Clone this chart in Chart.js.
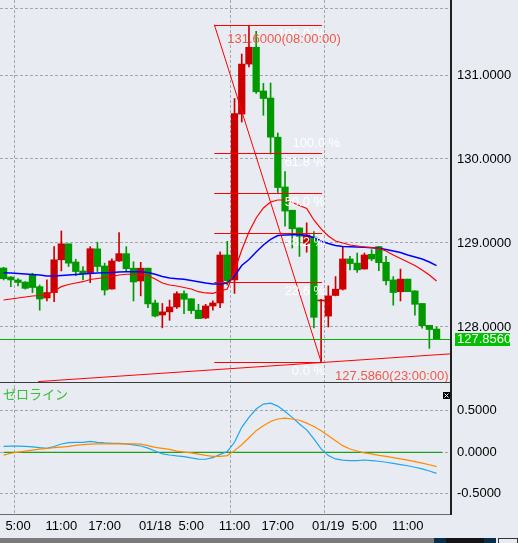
<!DOCTYPE html>
<html>
<head>
<meta charset="utf-8">
<script src="https://cdn.jsdelivr.net/npm/chart.js@4.4.1/dist/chart.umd.min.js"></script>
<style>
html, body { margin: 0; padding: 0; background: #e9ebf3; overflow: hidden; }
canvas { display: block; }
</style>
</head>
<body>
<canvas id="chart" width="518" height="543"></canvas>
<script>
// hourly candles, 01/17 03:00 .. 01/19 15:00
const open  = [128.702,128.595,128.560,128.535,128.615,128.480,128.345,128.410,128.800,128.990,
               128.774,128.667,128.647,128.930,128.726,128.452,128.786,128.873,128.700,128.548,
               128.700,128.286,128.143,128.180,128.238,128.397,128.336,128.200,128.107,128.250,
               128.286,128.857,128.560,130.535,131.130,131.330,130.810,130.726,130.260,129.667,
               129.390,129.180,128.997,129.070,128.310,128.130,128.375,128.450,128.810,128.760,
               128.690,128.865,128.957,128.770,128.560,128.420,128.570,128.430,128.280,128.020,127.975];
const high  = [128.710,128.600,128.575,128.540,128.640,128.500,128.560,128.956,129.143,128.990,
               128.806,128.720,128.956,129.010,128.760,128.810,129.123,128.956,128.776,128.770,
               128.700,128.320,128.280,128.320,128.420,128.430,128.336,128.270,128.270,128.310,
               128.896,129.020,130.720,131.250,131.590,131.520,130.900,130.905,130.310,129.850,
               129.390,129.180,129.240,129.135,128.330,128.490,128.600,128.956,128.840,128.880,
               128.880,128.920,128.960,128.840,128.600,128.690,128.570,128.430,128.280,128.020,128.000];
const low   = [128.560,128.480,128.490,128.450,128.410,128.200,128.310,128.300,128.667,128.720,
               128.610,128.560,128.527,128.660,128.380,128.450,128.780,128.658,128.310,128.370,
               128.230,128.120,127.990,128.080,128.220,128.160,128.160,128.100,128.100,128.200,
               128.230,128.500,128.400,130.440,131.095,130.780,130.520,130.060,129.600,129.200,
               128.940,128.840,128.890,127.990,127.586,128.000,128.370,128.440,128.680,128.650,
               128.690,128.790,128.670,128.500,128.260,128.310,128.420,128.140,127.985,127.745,127.850];
const close = [128.575,128.560,128.530,128.460,128.470,128.333,128.410,128.800,128.990,128.760,
               128.660,128.635,128.932,128.720,128.440,128.786,128.873,128.694,128.536,128.700,
               128.275,128.130,128.180,128.238,128.397,128.330,128.195,128.100,128.250,128.286,
               128.857,128.550,130.540,131.130,131.330,130.800,130.720,130.260,129.660,129.380,
               129.170,129.080,129.095,128.115,128.320,128.370,128.450,128.810,128.755,128.680,
               128.857,128.810,128.766,128.550,128.410,128.570,128.420,128.270,128.015,127.970,127.856];

// moving averages (red fast, blue slow)
const maFast = [128.321,128.333,128.345,128.357,128.369,128.375,128.387,128.429,128.480,128.506,
                128.524,128.539,128.565,128.577,128.589,128.601,128.619,128.628,128.628,128.628,
                128.613,128.571,128.524,128.500,128.488,128.470,128.452,128.420,128.405,128.401,
                128.429,128.452,128.667,128.917,129.131,129.298,129.417,129.488,129.512,129.512,
                129.482,129.446,129.411,129.274,129.167,129.083,129.024,129.000,128.976,128.964,
                128.952,128.946,128.935,128.905,128.857,128.815,128.774,128.732,128.679,128.619,128.548];
const maSlow = [128.647,128.643,128.637,128.631,128.625,128.619,128.607,128.607,128.613,128.619,
                128.625,128.631,128.637,128.643,128.647,128.649,128.655,128.658,128.658,128.658,
                128.649,128.628,128.601,128.583,128.575,128.568,128.554,128.539,128.524,128.512,
                128.512,128.524,128.607,128.732,128.804,128.893,128.976,129.042,129.089,129.095,
                129.099,129.101,129.089,129.066,129.024,128.994,128.970,128.958,128.956,128.952,
                128.949,128.944,128.938,128.923,128.905,128.887,128.857,128.833,128.810,128.774,128.730];

// sub window
const oscMain   = [0.072,0.075,0.074,0.070,0.064,0.055,0.048,0.070,0.100,0.115,
                   0.120,0.120,0.132,0.120,0.112,0.108,0.108,0.100,0.090,0.076,
                   0.050,0.015,-0.020,-0.033,-0.044,-0.052,-0.068,-0.082,-0.084,-0.065,
                   -0.025,0.010,0.120,0.300,0.420,0.520,0.580,0.590,0.555,0.490,
                   0.420,0.340,0.270,0.160,0.040,-0.040,-0.080,-0.095,-0.100,-0.100,
                   -0.093,-0.100,-0.108,-0.120,-0.133,-0.148,-0.162,-0.180,-0.200,-0.225,-0.253];
const oscSignal = [-0.035,-0.012,0.003,0.015,0.027,0.037,0.046,0.055,0.063,0.072,
                   0.083,0.093,0.097,0.100,0.100,0.100,0.100,0.100,0.100,0.097,
                   0.080,0.060,0.048,0.035,0.015,0.003,-0.008,-0.022,-0.038,-0.048,
                   -0.050,-0.040,0.020,0.090,0.175,0.260,0.320,0.370,0.400,0.410,
                   0.400,0.385,0.350,0.310,0.260,0.200,0.140,0.080,0.040,0.015,
                   -0.008,-0.020,-0.038,-0.050,-0.065,-0.080,-0.095,-0.112,-0.130,-0.150,-0.173];
const zeroLine = [0, 0];
const zeroSpan = [0, 60.8];

const tickIdx  = [2, 8, 14, 21, 26, 32, 38, 45, 50, 56];
const tickText = ['5:00', '11:00', '17:00', '01/18', '5:00', '11:00', '17:00', '01/19', '5:00', '11:00'];
const gridAt   = [1.5, 31.5, 44.5];
const priceTicks = [128, 129, 130, 131];
const priceTopGrid = 131.786;
const oscTicks = [-0.5, 0, 0.5];
const bid = 127.856;

// fibo retracement + trend line (chart objects)
const fibHigh = 131.6, fibLow = 127.586, fibX1 = 29.2, fibX2 = 44.0;
const fibLevels = [0, 0.236, 0.382, 0.5, 0.618, 1];
const fibText = ['0.0 %', '23.6 %', '38.2 %', '50.0 %', '61.8 %', '100.0 %'];
const trendA = [4.8, 127.35], trendB = [60, 127.669];

const RED = '#cc0000', GREEN = '#009a00';
const FONT = '"Liberation Sans", Arial, sans-serif';
const candleColor = open.map((o, i) => close[i] >= o ? RED : GREEN);
const xy = arr => arr.map((v, i) => ({ x: i, y: v }));

const overlay = {
  id: 'overlay',
  beforeDraw(chart) {
    const c = chart.ctx;
    c.save();
    c.fillStyle = '#e9ebf3';
    c.fillRect(0, 0, chart.width, chart.height);
    c.restore();
  },
  afterDatasetsDraw(chart) {
    const c = chart.ctx, xs = chart.scales.x, ys = chart.scales.y, y2 = chart.scales.y2;
    c.save();
    c.beginPath();
    c.rect(xs.left, ys.top, xs.right - xs.left, ys.bottom - ys.top);
    c.clip();

    // bid line
    c.strokeStyle = '#00b400';
    c.lineWidth = 1;
    let py = Math.round(ys.getPixelForValue(bid)) + 0.5;
    c.beginPath(); c.moveTo(xs.left, py); c.lineTo(xs.right, py); c.stroke();

    // trend line (ray)
    const ax = xs.getPixelForValue(trendA[0]), ay = ys.getPixelForValue(trendA[1]);
    const bx = xs.getPixelForValue(trendB[0]), by = ys.getPixelForValue(trendB[1]);
    const ex = xs.right, ey = ay + (by - ay) * (ex - ax) / (bx - ax);
    c.strokeStyle = '#ff0000';
    c.beginPath(); c.moveTo(ax, ay); c.lineTo(ex, ey); c.stroke();

    // fibo
    const fx1 = xs.getPixelForValue(fibX1), fx2 = xs.getPixelForValue(fibX2);
    fibLevels.forEach(l => {
      const v = fibLow + l * (fibHigh - fibLow);
      const yy = Math.round(ys.getPixelForValue(v)) + 0.5;
      c.beginPath(); c.moveTo(fx1, yy); c.lineTo(fx2 + 1, yy); c.stroke();
    });
    c.beginPath();
    c.moveTo(fx1, ys.getPixelForValue(fibHigh));
    c.lineTo(fx2, ys.getPixelForValue(fibLow));
    c.stroke();

    c.font = '13px ' + FONT;
    c.textBaseline = 'top';
    c.textAlign = 'right';
    c.fillStyle = '#ffffff';
    fibLevels.forEach((l, k) => {
      const v = fibLow + l * (fibHigh - fibLow);
      c.fillText(fibText[k], fx2 + 4, ys.getPixelForValue(v) + 3);
    });
    c.fillText('100.0 %', fx2 + 19, ys.getPixelForValue(fibLow + 0.65 * (fibHigh - fibLow)) - 6);

    c.textAlign = 'left';
    c.fillStyle = '#f05a48';
    c.fillText('131.6000(08:00:00)', fx1 + 13, ys.getPixelForValue(fibHigh) + 8);
    c.fillText('127.5860(23:00:00)', fx2 + 14, ys.getPixelForValue(fibLow) + 8);
    c.restore();

    // pane borders
    c.save();
    c.fillStyle = '#3a3a3a';
    c.fillRect(xs.left, Math.round(ys.bottom), xs.right - xs.left, 1);
    c.fillStyle = '#6a6a6a';
    c.fillRect(xs.left, Math.round(y2.bottom), xs.right - xs.left + 1, 1);
    c.fillStyle = '#202020';
    c.fillRect(Math.round(xs.right) - 1, 0, 2, Math.round(y2.bottom) + 1);
    c.restore();
  },
  afterDraw(chart) {
    const c = chart.ctx, xs = chart.scales.x, ys = chart.scales.y, y2 = chart.scales.y2;
    c.save();
    // bid price box
    const py = ys.getPixelForValue(bid);
    c.fillStyle = '#00c000';
    c.fillRect(xs.right + 4, Math.round(py) - 6, 55, 13);
    c.fillStyle = '#ffffff';
    c.font = '13px ' + FONT;
    c.textBaseline = 'middle';
    c.textAlign = 'left';
    c.fillText(bid.toFixed(4), xs.right + 6, py + 0.5);

    // indicator name
    c.fillStyle = '#35c035';
    c.font = '13px "Noto Sans CJK JP", sans-serif';
    c.textBaseline = 'top';
    c.fillText('ゼロライン', 3, y2.top + 6);

    // close box
    const bxl = xs.right - 8, byt = y2.top + 10;
    c.fillStyle = '#000';
    c.fillRect(bxl, byt, 7, 7);
    c.strokeStyle = '#fff';
    c.lineWidth = 1;
    c.beginPath();
    c.moveTo(bxl + 1.5, byt + 1.5); c.lineTo(bxl + 5.5, byt + 5.5);
    c.moveTo(bxl + 5.5, byt + 1.5); c.lineTo(bxl + 1.5, byt + 5.5);
    c.stroke();

    // scroll bar strip
    const sy = chart.height - 5;
    c.fillStyle = '#7b7b7b'; c.fillRect(0, sy, 434, 5);
    c.fillStyle = '#0c2c4c'; c.fillRect(434, sy, 12, 5);
    c.fillStyle = '#141414'; c.fillRect(446, sy, 38, 5);
    c.fillStyle = '#0c2c4c'; c.fillRect(484, sy, 12, 5);
    c.strokeStyle = '#333'; c.strokeRect(498.5, sy + 0.5, 19, 5);
    c.restore();
  }
};

const gridColor = '#a6a6a6';
const noPad = s => { s.paddingLeft = 0; s.paddingRight = 0; s.paddingTop = 0; s.paddingBottom = 0; };

new Chart(document.getElementById('chart'), {
  type: 'bar',
  data: {
    datasets: [
      { type: 'line', data: xy(maFast), yAxisID: 'y', borderColor: '#ff0000', borderWidth: 1.2, pointRadius: 0, order: 0 },
      { type: 'line', data: xy(maSlow), yAxisID: 'y', borderColor: '#0000ff', borderWidth: 1.5, pointRadius: 0, order: 0 },
      { data: xy(open.map((o, i) => [o, close[i]])), yAxisID: 'y', backgroundColor: candleColor,
        barThickness: 6.6, minBarLength: 1, grouped: false, order: 1 },
      { data: xy(low.map((l, i) => [l, high[i]])), yAxisID: 'y', backgroundColor: candleColor,
        barThickness: 1, grouped: false, order: 2 },
      { type: 'line', data: zeroSpan.map((x, k) => ({ x, y: zeroLine[k] })), yAxisID: 'y2', borderColor: '#1aa01a', borderWidth: 1.2, pointRadius: 0, order: 3 },
      { type: 'line', data: xy(oscSignal), yAxisID: 'y2', borderColor: '#ff8a00', borderWidth: 1.2, pointRadius: 0, order: 0 },
      { type: 'line', data: xy(oscMain), yAxisID: 'y2', borderColor: '#1ea6f0', borderWidth: 1.2, pointRadius: 0, order: 0 }
    ]
  },
  options: {
    responsive: false,
    devicePixelRatio: 1,
    animation: false,
    events: [],
    layout: { padding: 0 },
    plugins: { legend: { display: false }, tooltip: { enabled: false } },
    scales: {
      x: {
        type: 'linear',
        position: 'bottom',
        offset: false,
        min: -0.5,
        max: 62,
        afterBuildTicks: s => { s.ticks = gridAt.concat(tickIdx).map(v => ({ value: v })); },
        afterFit: s => { s.height = 29; noPad(s); },
        ticks: {
          autoSkip: false, maxRotation: 0, padding: 5, color: '#000',
          font: { family: FONT, size: 13 },
          callback: v => { const k = tickIdx.indexOf(v); return k < 0 ? '' : tickText[k]; }
        },
        grid: { drawTicks: false, offset: false, color: ctx => gridAt.includes(ctx.tick && ctx.tick.value) ? gridColor : 'transparent' },
        border: { display: false, dash: [3, 2] }
      },
      y: {
        position: 'right',
        stack: 'panes',
        stackWeight: 382,
        min: 127.345,
        max: 131.893,
        afterBuildTicks: s => { s.ticks = priceTicks.concat([priceTopGrid]).map(v => ({ value: v })); },
        afterFit: s => { s.width = 67; noPad(s); },
        ticks: {
          padding: 6, color: '#000', font: { family: FONT, size: 13 },
          callback: v => priceTicks.includes(v) ? v.toFixed(4) : ''
        },
        grid: { drawTicks: false, color: gridColor },
        border: { display: false, dash: [3, 2] }
      },
      y2: {
        position: 'right',
        stack: 'panes',
        stackWeight: 132,
        min: -0.742,
        max: 0.845,
        afterBuildTicks: s => { s.ticks = oscTicks.map(v => ({ value: v })); },
        afterFit: s => { s.width = 67; noPad(s); },
        ticks: {
          padding: 6, color: '#000', font: { family: FONT, size: 13 },
          callback: v => v.toFixed(4)
        },
        grid: { drawTicks: false, color: gridColor },
        border: { display: false, dash: [3, 2] }
      }
    }
  },
  plugins: [overlay]
});
</script>
</body>
</html>
